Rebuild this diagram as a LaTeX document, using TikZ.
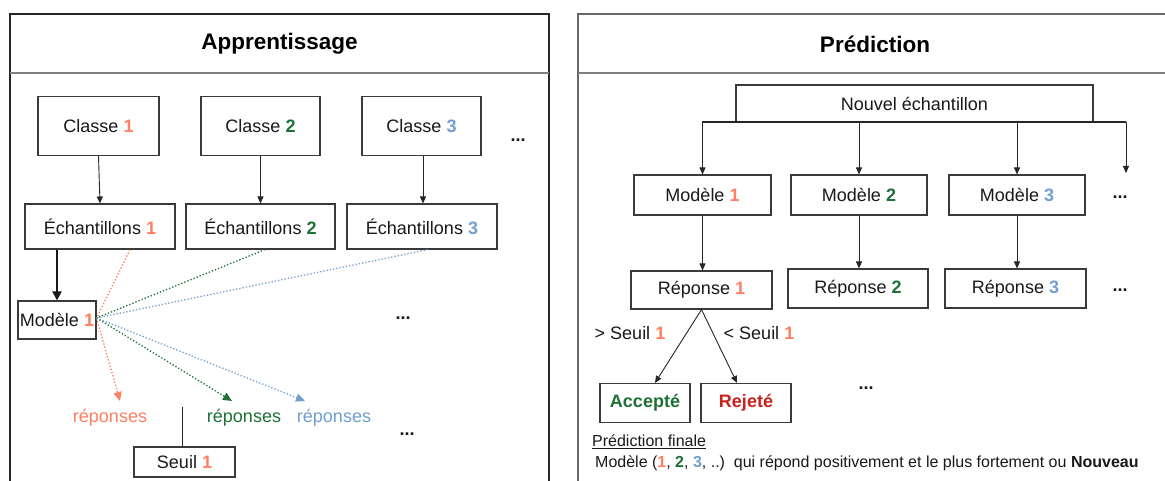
\documentclass[tikz,border=0pt]{standalone}
\usepackage{fontspec}
\setmainfont{Liberation Sans}
\usetikzlibrary{arrows.meta}
\definecolor{cA}{HTML}{FF7F62}
\definecolor{cB}{HTML}{1E7036}
\definecolor{cC}{HTML}{729FCF}
\definecolor{cR}{HTML}{C9211E}
\definecolor{frame}{HTML}{3A3A3A}
\newcommand{\nA}{\textbf{\color{cA}1}}
\newcommand{\nB}{\textbf{\color{cB}2}}
\newcommand{\nC}{\textbf{\color{cC}3}}
\begin{document}
\begin{tikzpicture}[x=1pt,y=-1pt,
  txt/.style={font=\fontsize{18}{20}\selectfont, text=black!90, inner sep=0},
  box/.style={txt, draw=frame, line width=1.1pt, fill=white},
  small/.style={font=\fontsize{16}{18}\selectfont, text=black!90, inner sep=0},
  title/.style={font=\fontsize{22.5}{25}\bfseries\selectfont, inner sep=0},
  arr/.style={draw=black!85, line width=0.9pt, -{Triangle[length=7pt,width=6pt]}},
  dotarr/.style={line width=1.3pt, dotted, -{Triangle[length=9pt,width=8pt]}},
  dotln/.style={line width=1.3pt, dotted},
  dots/.style={txt, font=\fontsize{18}{20}\bfseries\selectfont}
]
\useasboundingbox (0,0) rectangle (1165,481);
\fill[white] (0,0) rectangle (1165,481);
\begin{scope}
\clip (0,0) rectangle (1165,481);
% panels
\draw[draw=black!85, line width=1.2pt] (10,14) rectangle (549,500);
\draw[draw=black!50, line width=1.2pt] (10,73) -- (549,73);
\draw[draw=black!60, line width=1.2pt] (578,14) rectangle (1180,500);
\draw[draw=black!50, line width=1.2pt] (578,73) -- (1180,73);
\end{scope}
\node[title] (tA) at (279.5,44) {Apprentissage};
\node[title] (tP) at (875,44) {Prédiction};

% ---- Apprentissage ----
\node[box, minimum width=121, minimum height=59] (c1) at (98.5,126) {Classe \nA};
\node[box, minimum width=119, minimum height=59] (c2) at (260.5,126) {Classe \nB};
\node[box, minimum width=119, minimum height=59] (c3) at (421.5,126) {Classe \nC};
\node[dots] (d1) at (518,140) {...};

\node[box, minimum width=150, minimum height=45] (e1) at (100,226.5) {Échantillons \nA};
\node[box, minimum width=149, minimum height=45] (e2) at (260.5,226.5) {Échantillons \nB};
\node[box, minimum width=150, minimum height=45] (e3) at (422,226.5) {Échantillons \nC};

\draw[arr] (c1.south) -- (e1.north);
\draw[arr] (c2.south) -- (e2.north);
\draw[arr] ([xshift=1.5pt]c3.south) -- ([xshift=1.5pt]c3.south |- e3.north);

\node[box, minimum width=78, minimum height=38] (m1) at (57,320) {Modèle \nA};
\draw[draw=black!90, line width=2pt, -{Triangle[length=9pt,width=9pt]}] (m1.north |- e1.south) -- (m1.north);

\draw[dotln, cA] ([xshift=30pt]e1.south) -- ([yshift=2pt]m1.east);
\draw[dotln, cB] ([xshift=4.5pt]e2.south) -- ([yshift=2pt]m1.east);
\draw[dotln, cC] ([xshift=6pt]e3.south) -- ([yshift=2pt]m1.east);

\node[dots] (d2) at (403,318) {...};

\node[txt, text=cA] (r1) at (110,418) {réponses};
\node[txt, text=cB] (r2) at (244,418) {réponses};
\node[txt, text=cC] (r3) at (334,418) {réponses};
\coordinate (ra) at (120,401);
\coordinate (rb) at (232,401);
\coordinate (rc) at (305,401);
\draw[dotarr, cA] ([yshift=2pt]m1.east) -- (ra);
\draw[dotarr, cB] ([yshift=2pt]m1.east) -- (rb);
\draw[dotarr, cC] ([yshift=2pt]m1.east) -- (rc);

\node[box, minimum width=101, minimum height=30] (s1) at (184.5,462) {Seuil \nA};
\coordinate (sTop) at (182,407);
\draw[draw=black!85, line width=1pt] (sTop) -- (sTop |- s1.north);
\node[dots] (d3) at (407,434) {...};

% ---- Prédiction ----
\node[box, minimum width=357, minimum height=37] (nv) at (914.5,103.5) {Nouvel échantillon};
\node[box, minimum width=137, minimum height=40] (md1) at (702.5,195) {Modèle \nA};
\node[box, minimum width=136, minimum height=40] (md2) at (859,195) {Modèle \nB};
\node[box, minimum width=136, minimum height=40] (md3) at (1017,195) {Modèle \nC};
\node[dots] (d4) at (1120,197) {...};
\coordinate (bL) at (702,122);
\coordinate (bR) at (1126,122);
\coordinate (bEnd) at (1126,173);
\draw[draw=black!85, line width=1.8pt] (bL) -- (bR);
\draw[arr] (md1.north |- bL) -- (md1.north);
\draw[arr] (md2.north |- bL) -- (md2.north);
\draw[arr] (md3.north |- bL) -- (md3.north);
\draw[arr] (bR) -- (bEnd);

\node[box, minimum width=141, minimum height=38] (rp1) at (701.5,290) {Réponse \nA};
\node[box, minimum width=140, minimum height=39] (rp2) at (858,288.5) {Réponse \nB};
\node[box, minimum width=141, minimum height=39] (rp3) at (1015.5,288.5) {Réponse \nC};
\node[dots] (d5) at (1120,290) {...};
\draw[arr] (md1.south) -- (md1.south |- rp1.north);
\draw[arr] (md2.south) -- (md2.south |- rp2.north);
\draw[arr] (md3.south) -- (md3.south |- rp3.north);

\node[txt] (gt) at (630,333) {> Seuil \nA};
\node[txt] (lt) at (759,333) {< Seuil \nA};

\node[box, minimum width=90, minimum height=39, font=\fontsize{18}{20}\bfseries\selectfont, text=cB] (acc) at (645,403) {Accepté};
\node[box, minimum width=90, minimum height=39, font=\fontsize{18}{20}\bfseries\selectfont, text=cR] (rej) at (746,403) {Rejeté};
\draw[arr] (rp1.south) -- ([xshift=10pt]acc.north);
\draw[arr] (rp1.south) -- ([xshift=-9pt]rej.north);
\node[dots] (d6) at (866,388) {...};

\node[small, anchor=west] (pf) at (592,442) {\underline{Prédiction finale}};
\node[small, anchor=west] (pl) at (595,463) {Modèle (\nA, \nB, \nC, ..)\ \ qui répond positivement et le plus fortement ou \textbf{Nouveau}};
\end{tikzpicture}
\end{document}
